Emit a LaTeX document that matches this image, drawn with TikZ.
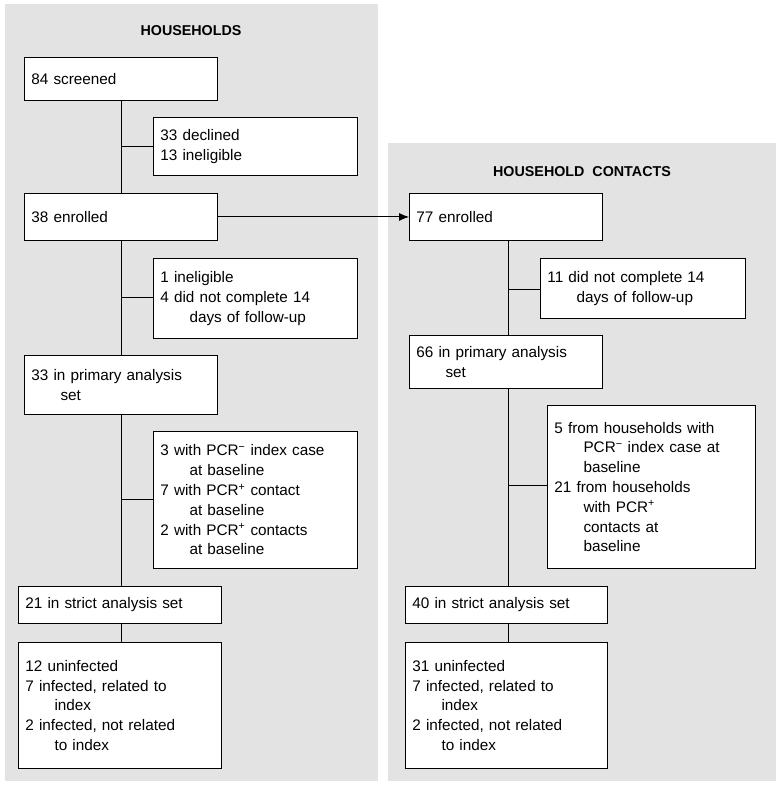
\documentclass[tikz,border=0pt]{standalone}
\usepackage{fontspec}
\setmainfont{Liberation Sans}
\usetikzlibrary{arrows.meta}
\begin{document}
\begin{tikzpicture}[x=1pt,y=-1pt,
  box/.style={draw=black,line width=0.9pt,fill=white,anchor=north west,align=left,inner xsep=7pt,inner ysep=2pt,font=\fontsize{15.3}{19.8}\selectfont},
  ttl/.style={font=\bfseries\fontsize{14.3}{16}\selectfont},
  ln/.style={line width=0.9pt}]
\useasboundingbox (0,0) rectangle (777,786);
\fill[white] (0,0) rectangle (777,786);
\fill[gray!22] (5,4) rectangle (378,781);
\fill[gray!22] (388,143) rectangle (776,781);
\node[ttl] (t1) at (191,31) {HOUSEHOLDS};
\node[ttl] (t2) at (582,172) {HOUSEHOLD\ \ CONTACTS};
\newcommand{\bx}[6]{\node[box,text width=#4-14,minimum height=#5] (#1) at (#2,#3) {#6};}
\def\ind{\hspace*{1.9em}}
% left
\bx{a1}{24}{57}{193}{43}{84 screened}
\bx{a2}{153}{117}{204}{58}{33 declined\\13 ineligible}
\bx{a3}{24}{193}{193}{47}{38 enrolled}
\bx{a4}{153}{258}{204}{80}{1 ineligible\\4 did not complete 14\\\ind days of follow-up}
\bx{a5}{24}{355}{193}{59}{33 in primary analysis\\\ind set}
\bx{a6}{153}{431}{204}{137}{3 with PCR\textsuperscript{−} index case\\\ind at baseline\\7 with PCR\textsuperscript{+} contact\\\ind at baseline\\2 with PCR\textsuperscript{+} contacts\\\ind at baseline}
\bx{a7}{18}{586}{203}{37}{21 in strict analysis set}
\bx{a8}{18}{642}{203}{126}{12 uninfected\\7 infected, related to\\\ind index\\2 infected, not related\\\ind to index}
% right
\bx{b3}{409}{193}{193}{47}{77 enrolled}
\bx{b4}{540}{258}{205}{60}{11 did not complete 14\\\ind days of follow-up}
\bx{b5}{409}{335}{193}{53}{66 in primary analysis\\\ind set}
\bx{b6}{547}{405}{208}{163}{5 from households with\\\ind PCR\textsuperscript{−} index case at\\\ind baseline\\21 from households\\\ind with PCR\textsuperscript{+}\\\ind contacts at\\\ind baseline}
\bx{b7}{405}{586}{202}{37}{40 in strict analysis set}
\bx{b8}{405}{642}{202}{126}{31 uninfected\\7 infected, related to\\\ind index\\2 infected, not related\\\ind to index}
% connectors
\coordinate (j1) at (121,146);
\coordinate (j2) at (121,297);
\coordinate (j3) at (121,499);
\draw[ln] (121,100) -- (121,193);
\draw[ln] (121,240) -- (121,355);
\draw[ln] (121,414) -- (121,586);
\draw[ln] (121,623) -- (121,642);
\draw[ln] (j1) -- (a2.west|-j1);
\draw[ln] (j2) -- (a4.west|-j2);
\draw[ln] (j3) -- (a6.west|-j3);
\coordinate (k1) at (508,289);
\coordinate (k2) at (508,485);
\draw[ln] (508,240) -- (508,335);
\draw[ln] (508,388) -- (508,586);
\draw[ln] (508,623) -- (508,642);
\draw[ln] (k1) -- (b4.west|-k1);
\draw[ln] (k2) -- (b6.west|-k2);
\draw[ln,-{Latex[length=10pt,width=8pt]}] (a3.east) -- (b3.west);
\end{tikzpicture}
\end{document}
